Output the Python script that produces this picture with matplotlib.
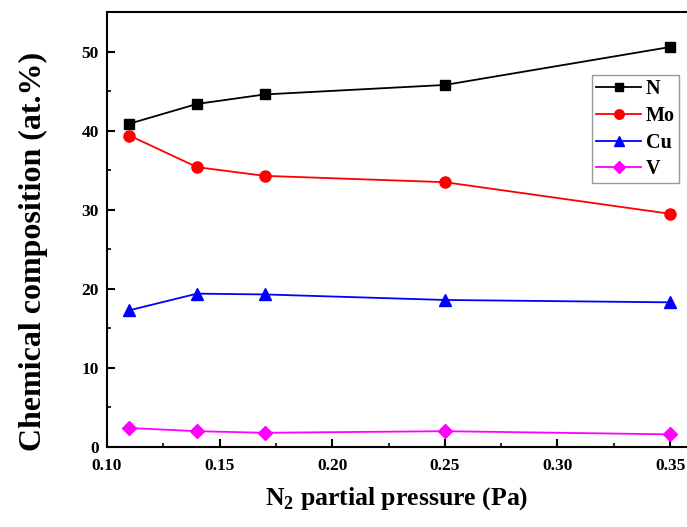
import numpy as np
import matplotlib
matplotlib.use("Agg")
import matplotlib.pyplot as plt
from matplotlib.ticker import MultipleLocator

# Data
pressure = [0.11, 0.14, 0.17, 0.25, 0.35]
n_vals = [40.9, 43.4, 44.6, 45.8, 50.6]
mo_vals = [39.4, 35.4, 34.3, 33.5, 29.5]
cu_vals = [17.3, 19.4, 19.3, 18.6, 18.3]
v_vals = [2.4, 2.0, 1.8, 2.0, 1.6]

plt.rcParams["font.family"] = "Liberation Serif"
plt.rcParams["font.weight"] = "bold"
plt.rcParams["mathtext.fontset"] = "custom"
plt.rcParams["mathtext.rm"] = "Liberation Serif:bold"
plt.rcParams["mathtext.bf"] = "Liberation Serif:bold"

fig = plt.figure(figsize=(6.87, 5.27), dpi=100)
ax = fig.add_axes([0.1557, 0.1518, 0.8443, 0.825])

ax.plot(pressure, n_vals, color="black", marker="s", markersize=7, lw=1.3, label="N")
ax.plot(pressure, mo_vals, color="red", marker="o", markersize=8, lw=1.3, label="Mo")
ax.plot(pressure, cu_vals, color="blue", marker="^", markersize=8, lw=1.3, label="Cu")
ax.plot(pressure, v_vals, color="magenta", marker="D", markersize=7, lw=1.3, label="V")

ax.set_xlim(0.10, 0.3575)
ax.set_ylim(0, 55)
ax.xaxis.set_major_locator(MultipleLocator(0.05))
ax.xaxis.set_minor_locator(MultipleLocator(0.025))
ax.yaxis.set_major_locator(MultipleLocator(10))
ax.yaxis.set_minor_locator(MultipleLocator(5))
ax.xaxis.set_major_formatter(plt.FormatStrFormatter("%.2f"))
ax.tick_params(which="major", direction="in", length=6, width=1.5, labelsize=12.5, pad=6)
ax.tick_params(axis="x", which="major", pad=8)
ax.tick_params(which="minor", direction="in", length=3, width=1.2)
ax.tick_params(top=False, right=False)
for s in ["left", "bottom", "top"]:
    ax.spines[s].set_linewidth(1.5)
ax.spines["right"].set_visible(False)

ax.set_xlabel("N$_{2}$ partial pressure (Pa)", fontsize=18.5, fontweight="bold", labelpad=8)
ax.set_ylabel("Chemical composition (at.%)", fontsize=23, fontweight="bold")
ax.yaxis.set_label_coords(-0.102, 0.45)

leg = ax.legend(loc="upper left", bbox_to_anchor=(0.837, 0.855), fontsize=14.5,
                fancybox=False, edgecolor="gray", handlelength=2.2, markerscale=0.85,
                borderpad=0.2, labelspacing=0.33, handletextpad=0.25, borderaxespad=0)
leg.get_frame().set_linewidth(1.0)

fig.savefig("out.png", dpi=100)
